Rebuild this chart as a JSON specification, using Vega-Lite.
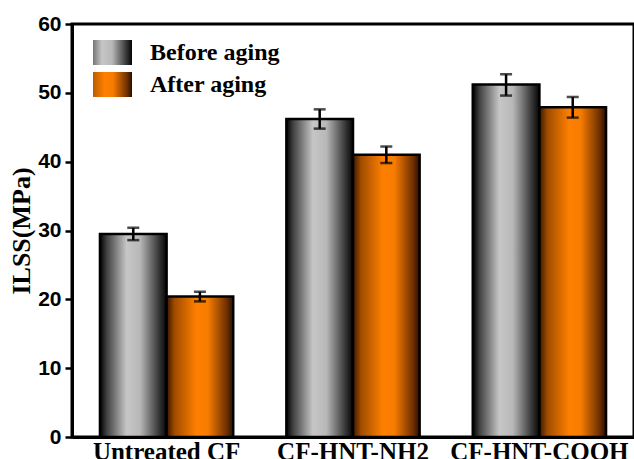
{
  "$schema": "https://vega.github.io/schema/vega-lite/v6.json",
  "autosize": "none",
  "width": 562,
  "height": 413,
  "padding": {"left": 72, "top": 24, "right": 0, "bottom": 22},
  "background": "white",
  "config": {
    "view": {"stroke": "black", "strokeWidth": 3}
  },
  "data": {
    "values": [
      {"group": "Untreated CF", "series": "Before aging", "value": 29.5, "lo": 28.6, "hi": 30.4},
      {"group": "Untreated CF", "series": "After aging", "value": 20.4, "lo": 19.7, "hi": 21.1},
      {"group": "CF-HNT-NH2", "series": "Before aging", "value": 46.2, "lo": 44.8, "hi": 47.6},
      {"group": "CF-HNT-NH2", "series": "After aging", "value": 41.0, "lo": 39.8, "hi": 42.2},
      {"group": "CF-HNT-COOH", "series": "Before aging", "value": 51.2, "lo": 49.6, "hi": 52.7},
      {"group": "CF-HNT-COOH", "series": "After aging", "value": 47.9, "lo": 46.4, "hi": 49.4}
    ]
  },
  "encoding": {
    "x": {
      "field": "group", "type": "nominal", "sort": null,
      "scale": {"paddingInner": 0.285, "paddingOuter": 0.15},
      "axis": {
        "title": null, "labelAngle": 0, "domainColor": "black", "domainWidth": 3,
        "ticks": false, "labelPadding": 2,
        "labelFont": "Liberation Serif", "labelFontWeight": "bold", "labelFontSize": 25,
        "labelColor": "black", "labelBaseline": "top"
      }
    },
    "xOffset": {
      "field": "series", "type": "nominal",
      "scale": {"domain": ["Before aging", "After aging"], "paddingInner": 0, "paddingOuter": 0}
    }
  },
  "layer": [
    {
      "transform": [{"filter": "datum.series === 'Before aging'"}],
      "mark": {
        "type": "bar", "stroke": "black", "strokeWidth": 2.5,
        "fill": {"gradient": "linear", "x1": 0, "y1": 0, "x2": 1, "y2": 0, "stops": [{"offset": 0, "color": "#000000"}, {"offset": 0.1, "color": "#404040"}, {"offset": 0.4, "color": "#c6c6c6"}, {"offset": 0.6, "color": "#b8b8b8"}, {"offset": 0.9, "color": "#303030"}, {"offset": 1, "color": "#050505"}]}
      },
      "encoding": {
        "y": {
          "field": "value", "type": "quantitative",
          "scale": {"domain": [0, 60], "nice": false},
          "axis": {
            "title": "ILSS(MPa)",
            "values": [0, 5, 10, 15, 20, 25, 30, 35, 40, 45, 50, 55, 60],
            "labelExpr": "datum.value % 10 === 0 ? datum.label : ''",
            "tickSize": {"condition": {"test": "datum.value % 10 === 0", "value": 7}, "value": 4},
            "grid": false, "domainColor": "black", "domainWidth": 3,
            "tickColor": "black", "tickWidth": 2.5, "labelPadding": 4,
            "labelFont": "Liberation Sans", "labelFontWeight": "bold", "labelFontSize": 21,
            "labelColor": "black",
            "titleFont": "Liberation Serif", "titleFontWeight": "bold", "titleFontSize": 26,
            "titleColor": "black", "titlePadding": 3
          }
        },
        "opacity": {
          "field": "series", "type": "nominal",
          "scale": {"domain": ["Before aging"], "range": [1]},
          "legend": {
            "title": null, "orient": "none", "legendX": 21, "legendY": 16,
            "symbolType": "M-2,-1H2V1H-2Z", "symbolSize": 625,
            "symbolStrokeColor": "black", "symbolStrokeWidth": 2.5,
            "labelFont": "Liberation Serif", "labelFontWeight": "bold", "labelFontSize": 24,
            "labelColor": "black", "labelOffset": 29, "clipHeight": 25,
            "encode": {
              "symbols": {
                "update": {
                  "fill": {"value": {"gradient": "linear", "x1": 0, "y1": 0, "x2": 1, "y2": 0, "stops": [{"offset": 0, "color": "#000000"}, {"offset": 0.12, "color": "#505050"}, {"offset": 0.4, "color": "#c6c6c6"}, {"offset": 0.6, "color": "#b8b8b8"}, {"offset": 0.88, "color": "#303030"}, {"offset": 1, "color": "#050505"}]}},
                  "fillOpacity": {"value": 1},
                  "stroke": {"value": "black"},
                  "strokeOpacity": {"value": 1},
                  "strokeWidth": {"value": 2.5}
                }
              }
            }
          }
        }
      }
    },
    {
      "transform": [{"filter": "datum.series === 'After aging'"}],
      "mark": {
        "type": "bar", "stroke": "black", "strokeWidth": 2.5,
        "fill": {"gradient": "linear", "x1": 0, "y1": 0, "x2": 1, "y2": 0, "stops": [{"offset": 0, "color": "#3a1600"}, {"offset": 0.12, "color": "#a04c00"}, {"offset": 0.45, "color": "#ff8000"}, {"offset": 0.62, "color": "#f77c00"}, {"offset": 0.9, "color": "#703000"}, {"offset": 1, "color": "#2a0e00"}]}
      },
      "encoding": {
        "y": {"field": "value", "type": "quantitative"},
        "strokeDash": {
          "field": "series", "type": "nominal",
          "scale": {"domain": ["After aging"], "range": [[1, 0]]},
          "legend": {
            "title": null, "orient": "none", "legendX": 21, "legendY": 48,
            "symbolType": "M-2,-1H2V1H-2Z", "symbolSize": 625,
            "symbolStrokeColor": "black", "symbolStrokeWidth": 2.5,
            "labelFont": "Liberation Serif", "labelFontWeight": "bold", "labelFontSize": 24,
            "labelColor": "black", "labelOffset": 29, "clipHeight": 25,
            "encode": {
              "symbols": {
                "update": {
                  "fill": {"value": {"gradient": "linear", "x1": 0, "y1": 0, "x2": 1, "y2": 0, "stops": [{"offset": 0, "color": "#3a1600"}, {"offset": 0.12, "color": "#a04c00"}, {"offset": 0.45, "color": "#ff8000"}, {"offset": 0.62, "color": "#f77c00"}, {"offset": 0.88, "color": "#703000"}, {"offset": 1, "color": "#2a0e00"}]}},
                  "fillOpacity": {"value": 1},
                  "stroke": {"value": "black"},
                  "strokeOpacity": {"value": 1},
                  "strokeWidth": {"value": 2.5}
                }
              }
            }
          }
        }
      }
    },
    {
      "mark": {"type": "rule", "color": "black", "strokeWidth": 2.5},
      "encoding": {
        "y": {"field": "lo", "type": "quantitative"},
        "y2": {"field": "hi"}
      }
    },
    {
      "mark": {"type": "tick", "color": "black", "size": 12, "thickness": 2.5, "orient": "horizontal"},
      "encoding": {
        "y": {"field": "lo", "type": "quantitative"}
      }
    },
    {
      "mark": {"type": "tick", "color": "black", "size": 12, "thickness": 2.5, "orient": "horizontal"},
      "encoding": {
        "y": {"field": "hi", "type": "quantitative"}
      }
    }
  ]
}
